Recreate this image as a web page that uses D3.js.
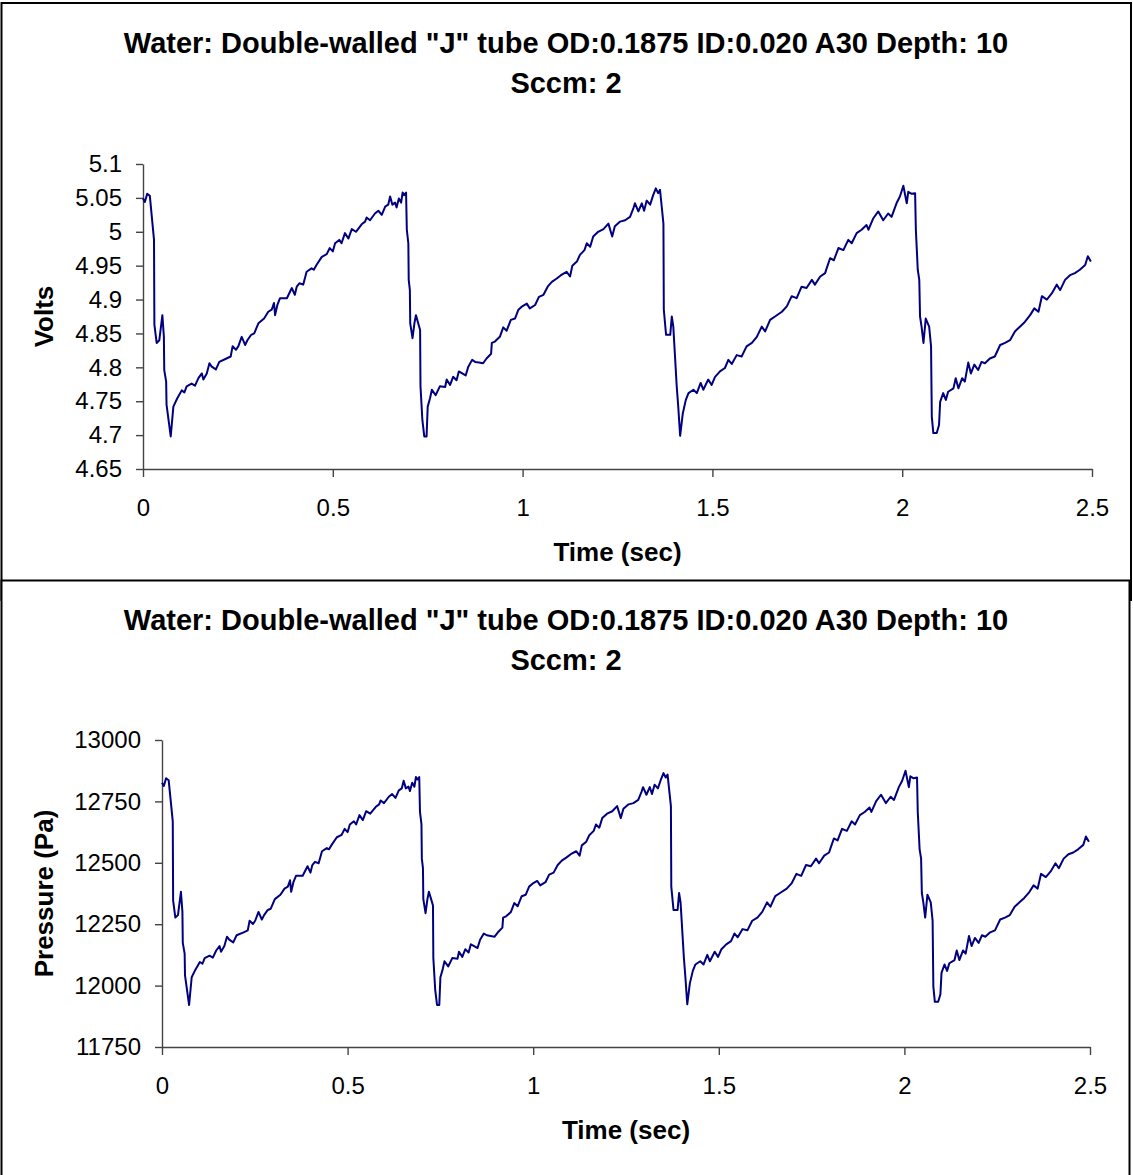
<!DOCTYPE html>
<html>
<head>
<meta charset="utf-8">
<script src="https://cdn.jsdelivr.net/npm/d3@7"></script>
<style>
  body { margin: 0; background: #fff; }
  svg { display: block; }
  text { font-family: Arial, "Liberation Sans", sans-serif; }
</style>
</head>
<body>
<div id="chart"></div>
<script>
var titleLines = ['Water: Double-walled "J" tube OD:0.1875 ID:0.020 A30 Depth: 10', 'Sccm: 2'];

var timeTicks = [0, 0.5, 1, 1.5, 2, 2.5];
var voltTicks = [4.65, 4.7, 4.75, 4.8, 4.85, 4.9, 4.95, 5, 5.05, 5.1];
var pressureTicks = [11750, 12000, 12250, 12500, 12750, 13000];

// samples, sec
var timeSec = [
  0.000, 0.005, 0.011, 0.018, 0.029, 0.030, 0.036, 0.043, 0.051, 0.055, 0.056, 0.061, 0.062, 0.073, 0.080, 0.090,
  0.102, 0.109, 0.115, 0.128, 0.137, 0.146, 0.155, 0.159, 0.168, 0.175, 0.181, 0.192, 0.201, 0.220, 0.231, 0.236,
  0.245, 0.251, 0.260, 0.269, 0.275, 0.285, 0.293, 0.304, 0.319, 0.330, 0.339, 0.345, 0.348, 0.354, 0.361, 0.379,
  0.392, 0.400, 0.405, 0.412, 0.422, 0.431, 0.444, 0.450, 0.457, 0.471, 0.484, 0.492, 0.500, 0.506, 0.517, 0.523,
  0.532, 0.541, 0.550, 0.561, 0.576, 0.585, 0.589, 0.598, 0.611, 0.620, 0.629, 0.638, 0.646, 0.651, 0.657, 0.664,
  0.668, 0.674, 0.680, 0.684, 0.688, 0.693, 0.695, 0.699, 0.700, 0.703, 0.704, 0.710, 0.715, 0.719, 0.725, 0.730,
  0.731, 0.736, 0.741, 0.747, 0.750, 0.756, 0.761, 0.771, 0.782, 0.796, 0.800, 0.809, 0.817, 0.826, 0.832, 0.841,
  0.850, 0.857, 0.867, 0.875, 0.885, 0.896, 0.905, 0.917, 0.919, 0.927, 0.940, 0.949, 0.958, 0.969, 0.980, 0.989,
  0.999, 1.011, 1.019, 1.033, 1.043, 1.055, 1.066, 1.077, 1.090, 1.101, 1.116, 1.125, 1.131, 1.143, 1.151, 1.163,
  1.169, 1.178, 1.186, 1.199, 1.213, 1.226, 1.236, 1.243, 1.257, 1.270, 1.283, 1.292, 1.296, 1.305, 1.314, 1.320,
  1.327, 1.336, 1.344, 1.351, 1.357, 1.362, 1.371, 1.372, 1.378, 1.389, 1.393, 1.397, 1.401, 1.406, 1.410, 1.415,
  1.422, 1.430, 1.437, 1.450, 1.459, 1.469, 1.476, 1.489, 1.498, 1.507, 1.520, 1.533, 1.542, 1.551, 1.564, 1.577,
  1.590, 1.604, 1.617, 1.630, 1.639, 1.652, 1.665, 1.683, 1.696, 1.709, 1.722, 1.735, 1.748, 1.762, 1.770, 1.784,
  1.797, 1.801, 1.810, 1.820, 1.832, 1.845, 1.858, 1.867, 1.880, 1.893, 1.906, 1.911, 1.924, 1.937, 1.950, 1.963,
  1.972, 1.985, 1.994, 2.003, 2.012, 2.016, 2.025, 2.034, 2.036, 2.041, 2.045, 2.047, 2.051, 2.056, 2.062, 2.071,
  2.076, 2.078, 2.082, 2.091, 2.097, 2.100, 2.108, 2.115, 2.121, 2.135, 2.141, 2.148, 2.158, 2.165, 2.174, 2.181,
  2.190, 2.200, 2.209, 2.218, 2.231, 2.244, 2.258, 2.271, 2.284, 2.297, 2.310, 2.323, 2.337, 2.348, 2.359, 2.368,
  2.381, 2.394, 2.407, 2.416, 2.429, 2.442, 2.455, 2.468, 2.482, 2.489, 2.497
];

var volts = [
  5.049, 5.044, 5.056, 5.053, 4.988, 4.863, 4.836, 4.840, 4.877, 4.845, 4.796, 4.779, 4.745, 4.698, 4.742, 4.754,
  4.766, 4.763, 4.772, 4.776, 4.773, 4.784, 4.791, 4.782, 4.791, 4.806, 4.801, 4.797, 4.808, 4.813, 4.816, 4.831,
  4.826, 4.831, 4.845, 4.833, 4.840, 4.848, 4.850, 4.865, 4.872, 4.882, 4.885, 4.895, 4.877, 4.892, 4.902, 4.902,
  4.917, 4.907, 4.919, 4.924, 4.922, 4.941, 4.946, 4.944, 4.951, 4.963, 4.967, 4.976, 4.971, 4.983, 4.988, 4.983,
  4.998, 4.990, 5.004, 5.000, 5.011, 5.015, 5.021, 5.017, 5.027, 5.031, 5.025, 5.037, 5.040, 5.052, 5.040, 5.043,
  5.036, 5.049, 5.043, 5.058, 5.054, 5.058, 5.003, 4.983, 4.929, 4.914, 4.865, 4.843, 4.865, 4.877, 4.865, 4.855,
  4.772, 4.722, 4.698, 4.698, 4.742, 4.754, 4.767, 4.759, 4.772, 4.771, 4.782, 4.774, 4.786, 4.781, 4.794, 4.791,
  4.788, 4.801, 4.811, 4.808, 4.807, 4.806, 4.813, 4.820, 4.836, 4.838, 4.845, 4.859, 4.854, 4.870, 4.872, 4.885,
  4.890, 4.894, 4.887, 4.892, 4.904, 4.907, 4.919, 4.926, 4.931, 4.936, 4.941, 4.934, 4.950, 4.956, 4.966, 4.973,
  4.983, 4.978, 4.993, 5.000, 5.004, 5.012, 4.993, 5.008, 5.015, 5.017, 5.022, 5.035, 5.042, 5.030, 5.042, 5.031,
  5.046, 5.040, 5.054, 5.064, 5.057, 5.062, 5.012, 4.885, 4.848, 4.848, 4.875, 4.860, 4.821, 4.772, 4.742, 4.699,
  4.732, 4.752, 4.762, 4.767, 4.762, 4.777, 4.767, 4.782, 4.774, 4.786, 4.794, 4.799, 4.811, 4.805, 4.818, 4.816,
  4.831, 4.836, 4.845, 4.860, 4.853, 4.870, 4.875, 4.882, 4.890, 4.905, 4.902, 4.919, 4.917, 4.929, 4.922, 4.934,
  4.939, 4.946, 4.961, 4.958, 4.976, 4.973, 4.988, 4.983, 4.998, 5.003, 5.010, 5.003, 5.020, 5.030, 5.017, 5.027,
  5.022, 5.042, 5.052, 5.068, 5.042, 5.059, 5.056, 5.057, 5.003, 4.944, 4.929, 4.875, 4.860, 4.836, 4.872, 4.860,
  4.831, 4.727, 4.703, 4.703, 4.715, 4.749, 4.762, 4.752, 4.764, 4.769, 4.784, 4.769, 4.784, 4.779, 4.807, 4.791,
  4.804, 4.796, 4.808, 4.806, 4.813, 4.816, 4.833, 4.836, 4.840, 4.853, 4.860, 4.867, 4.877, 4.887, 4.882, 4.905,
  4.900, 4.909, 4.922, 4.914, 4.929, 4.936, 4.939, 4.944, 4.951, 4.964, 4.956
];

var pressurePa = [
  12826, 12813, 12844, 12836, 12669, 12346, 12277, 12287, 12382, 12300, 12174, 12130, 12042, 11921, 12034, 12065,
  12096, 12089, 12112, 12122, 12114, 12143, 12161, 12138, 12161, 12199, 12187, 12176, 12205, 12217, 12225, 12264,
  12251, 12264, 12300, 12269, 12287, 12308, 12313, 12352, 12370, 12395, 12403, 12429, 12382, 12421, 12447, 12447,
  12486, 12460, 12491, 12504, 12498, 12547, 12560, 12555, 12573, 12604, 12614, 12638, 12625, 12656, 12669, 12656,
  12694, 12674, 12710, 12700, 12728, 12738, 12754, 12743, 12769, 12780, 12764, 12795, 12803, 12834, 12803, 12810,
  12792, 12826, 12810, 12849, 12839, 12849, 12707, 12656, 12517, 12478, 12352, 12295, 12352, 12382, 12352, 12326,
  12112, 11983, 11921, 11921, 12034, 12065, 12099, 12078, 12112, 12109, 12138, 12117, 12148, 12135, 12168, 12161,
  12153, 12187, 12212, 12205, 12202, 12199, 12217, 12236, 12277, 12282, 12300, 12336, 12323, 12364, 12370, 12403,
  12416, 12426, 12408, 12421, 12452, 12460, 12491, 12509, 12522, 12535, 12547, 12529, 12571, 12586, 12612, 12630,
  12656, 12643, 12682, 12700, 12710, 12731, 12682, 12720, 12738, 12743, 12756, 12790, 12808, 12777, 12808, 12780,
  12818, 12803, 12839, 12865, 12847, 12859, 12731, 12403, 12308, 12308, 12377, 12339, 12238, 12112, 12034, 11924,
  12009, 12060, 12086, 12099, 12086, 12125, 12099, 12138, 12117, 12148, 12168, 12181, 12212, 12197, 12230, 12225,
  12264, 12277, 12300, 12339, 12321, 12364, 12377, 12395, 12416, 12455, 12447, 12491, 12486, 12517, 12498, 12529,
  12542, 12560, 12599, 12591, 12638, 12630, 12669, 12656, 12694, 12707, 12725, 12707, 12751, 12777, 12743, 12769,
  12756, 12808, 12834, 12875, 12808, 12852, 12844, 12847, 12707, 12555, 12517, 12377, 12339, 12277, 12370, 12339,
  12264, 11996, 11934, 11934, 11965, 12052, 12086, 12060, 12091, 12104, 12143, 12104, 12143, 12130, 12202, 12161,
  12194, 12174, 12205, 12199, 12217, 12225, 12269, 12277, 12287, 12321, 12339, 12357, 12382, 12408, 12395, 12455,
  12442, 12465, 12498, 12478, 12517, 12535, 12542, 12555, 12573, 12607, 12586
];

var width = 1133;
var height = 1175;

var svg = d3.select('#chart').append('svg')
  .attr('width', width)
  .attr('height', height);

var drawPanel = function(p){
  var g = svg.append('g');

  g.append('rect')
    .attr('x', p.frame.x)
    .attr('y', p.frame.y)
    .attr('width', p.frame.w)
    .attr('height', p.frame.h)
    .attr('fill', '#fff')
    .attr('stroke', '#000')
    .attr('stroke-width', 2);

  var x = d3.scaleLinear().domain([0, 2.5]).range([p.left, p.right]);
  var y = d3.scaleLinear().domain(p.yDomain).range([p.bottom, p.top]);

  g.selectAll('.title')
    .data(titleLines)
    .enter().append('text')
    .attr('x', p.titleX)
    .attr('y', function(d, i){ return p.titleY + i * 40; })
    .attr('text-anchor', 'middle')
    .attr('font-size', 29)
    .attr('font-weight', 'bold')
    .text(function(d){ return d; });

  var xAxis = g.append('g')
    .attr('transform', 'translate(0,' + p.bottom + ')')
    .call(d3.axisBottom(x).tickValues(timeTicks).tickFormat(d3.format('')).tickSize(8).tickSizeOuter(0).tickPadding(22));

  var yAxis = g.append('g')
    .attr('transform', 'translate(' + p.left + ',0)')
    .call(d3.axisLeft(y).tickValues(p.yTicks).tickFormat(d3.format('')).tickSize(7).tickSizeOuter(0).tickPadding(14));

  [xAxis, yAxis].forEach(function(a){
    a.select('.domain').attr('stroke', '#444').attr('stroke-width', 1.4);
    a.selectAll('.tick line').attr('stroke', '#444').attr('stroke-width', 1.4);
    a.selectAll('.tick text')
      .attr('fill', '#000')
      .attr('font-size', 24)
      .attr('font-family', 'Arial, "Liberation Sans", sans-serif');
  });

  g.append('text')
    .attr('x', (p.left + p.right) / 2)
    .attr('y', p.bottom + 92)
    .attr('text-anchor', 'middle')
    .attr('font-size', 26)
    .attr('font-weight', 'bold')
    .text('Time (sec)');

  g.append('text')
    .attr('transform', 'translate(53,' + ((p.top + p.bottom) / 2) + ') rotate(-90)')
    .attr('text-anchor', 'middle')
    .attr('font-size', 26)
    .attr('font-weight', 'bold')
    .text(p.yLabel);

  var line = d3.line()
    .x(function(d, i){ return x(timeSec[i]); })
    .y(function(d){ return y(d); });

  g.append('path')
    .datum(p.values)
    .attr('d', line)
    .attr('fill', 'none')
    .attr('stroke', '#000080')
    .attr('stroke-width', 2)
    .attr('stroke-linejoin', 'round');
};

drawPanel({
  frame: {x: 1.5, y: 3, w: 1129.5, h: 597},
  left: 143, right: 1092, top: 164, bottom: 469,
  titleX: 566, titleY: 53,
  yDomain: [4.65, 5.1], yTicks: voltTicks,
  yLabel: 'Volts', values: volts
});

drawPanel({
  frame: {x: 1.5, y: 580.5, w: 1128, h: 600},
  left: 162, right: 1090, top: 740, bottom: 1047,
  titleX: 566, titleY: 630,
  yDomain: [11750, 13000], yTicks: pressureTicks,
  yLabel: 'Pressure (Pa)', values: pressurePa
});
</script>
</body>
</html>
